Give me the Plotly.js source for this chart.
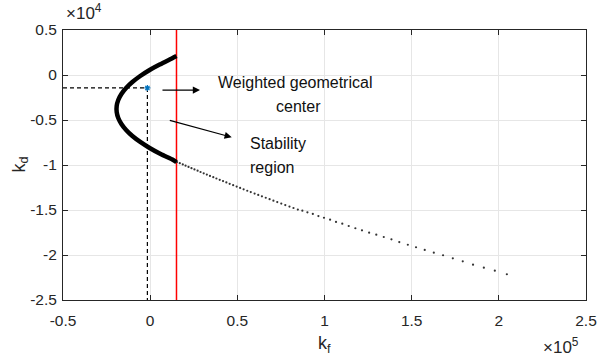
<!DOCTYPE html>
<html>
<head>
<meta charset="utf-8">
<script src="https://cdn.plot.ly/plotly-3.0.1.min.js"></script>
<style>html,body{margin:0;padding:0;background:#fff;}#chart{width:597px;height:360px;}</style>
</head>
<body>
<div id="chart"></div>
<script>
// Values in display units: kf in x10^5, kd in x10^4
const curveKf = [0.151, 0.107, 0.049, -0.003, -0.057, -0.102, -0.138, -0.165, -0.183, -0.192, -0.192, -0.183, -0.165, -0.138, -0.102, -0.057, -0.003, 0.060, 0.132, 0.151];
const curveKd = [0.211, 0.167, 0.111, 0.056, -0.011, -0.078, -0.144, -0.211, -0.278, -0.344, -0.411, -0.478, -0.544, -0.611, -0.678, -0.744, -0.811, -0.878, -0.944, -0.967];

const dotKf = [0.154, 0.170, 0.187, 0.203, 0.220, 0.237, 0.254, 0.272, 0.289, 0.307, 0.325, 0.343, 0.362, 0.380, 0.399, 0.418, 0.437, 0.456, 0.476, 0.496, 0.516, 0.536, 0.557, 0.577, 0.599, 0.620, 0.641, 0.663, 0.685, 0.707, 0.729, 0.752, 0.775, 0.799, 0.822, 0.847,
  0.873, 0.902, 0.933, 0.965, 0.997, 1.032, 1.066, 1.102, 1.139, 1.177, 1.215, 1.256, 1.297, 1.340, 1.384, 1.429, 1.478, 1.525, 1.575, 1.627, 1.680, 1.736, 1.793, 1.852, 1.914, 1.977, 2.046];
const dotKd = [-0.967, -0.980, -0.994, -1.008, -1.021, -1.035, -1.049, -1.063, -1.078, -1.092, -1.106, -1.121, -1.135, -1.150, -1.165, -1.179, -1.194, -1.209, -1.224, -1.240, -1.255, -1.270, -1.286, -1.301, -1.317, -1.333, -1.348, -1.364, -1.380, -1.396, -1.412, -1.429, -1.445, -1.462, -1.478, -1.495,
  -1.508, -1.526, -1.544, -1.567, -1.586, -1.608, -1.633, -1.652, -1.678, -1.703, -1.726, -1.752, -1.774, -1.800, -1.826, -1.856, -1.886, -1.914, -1.944, -1.974, -2.003, -2.037, -2.070, -2.108, -2.141, -2.174, -2.214];

const centerKf = [-0.016];
const centerKd = [-0.144];
const hDashKf = [-0.5, -0.016];
const hDashKd = [-0.144, -0.144];
const vDashKf = [-0.016, -0.016];
const vDashKd = [-0.144, -2.5];
const redKf = [0.151, 0.151];
const redKd = [-2.5, 0.5];

const xTickVals = [-0.5, 0, 0.5, 1, 1.5, 2, 2.5];
const xTickText = ["-0.5", "0", "0.5", "1", "1.5", "2", "2.5"];
const yTickVals = [-2.5, -2, -1.5, -1, -0.5, 0, 0.5];
const yTickText = ["-2.5", "-2", "-1.5", "-1", "-0.5", "0", "0.5"];

// annotation anchors (data units)
const arrow1 = {tailKf: 0.062, tailKd: -0.167, headKf: 0.286, headKd: -0.167};
const arrow2 = {tailKf: 0.104, tailKd: -0.500, headKf: 0.468, headKd: -0.692};

const FONT = 'Arial, "Liberation Sans", sans-serif';
const FS = 15.5;
const AX = '#262626';

const traces = [
  {x: hDashKf, y: hDashKd, mode: 'lines', line: {color: '#000', width: 1.2, dash: '4px,3px'}, hoverinfo: 'skip'},
  {x: vDashKf, y: vDashKd, mode: 'lines', line: {color: '#000', width: 1.2, dash: '4px,3px'}, hoverinfo: 'skip'},
  {x: redKf, y: redKd, mode: 'lines', line: {color: '#ff0000', width: 1.5}, hoverinfo: 'skip'},
  {x: dotKf, y: dotKd, mode: 'markers', marker: {color: '#333', size: 2.2}, hoverinfo: 'skip'},
  {x: curveKf, y: curveKd, mode: 'lines', line: {color: '#000', width: 4.5, shape: 'spline', smoothing: 0.8}, hoverinfo: 'skip'},
  {x: centerKf, y: centerKd, mode: 'markers', marker: {color: '#0072BD', size: 5, symbol: 'asterisk-open', line: {color: '#0072BD', width: 1.2}}, hoverinfo: 'skip'}
];

const axisCommon = {
  showline: true, linecolor: AX, linewidth: 1, mirror: 'ticks',
  ticks: 'inside', ticklen: 5, tickcolor: AX, tickwidth: 1,
  showgrid: true, gridcolor: '#e6e6e6', gridwidth: 1,
  zeroline: false, tickfont: {family: FONT, size: FS, color: AX},
  tickmode: 'array', fixedrange: true
};

const layout = {
  width: 597, height: 360,
  margin: {l: 63, r: 11, t: 30, b: 60},
  paper_bgcolor: '#fff', plot_bgcolor: '#fff',
  showlegend: false,
  font: {family: FONT, size: FS, color: AX},
  xaxis: Object.assign({}, axisCommon, {range: [-0.5, 2.5], tickvals: xTickVals, ticktext: xTickText, ticklabelstandoff: 6}),
  yaxis: Object.assign({}, axisCommon, {range: [-2.5, 0.5], tickvals: yTickVals, ticktext: yTickText, ticklabelstandoff: 2}),
  annotations: [
    {x: arrow1.headKf, y: arrow1.headKd, ax: arrow1.tailKf, ay: arrow1.tailKd, xref: 'x', yref: 'y', axref: 'x', ayref: 'y',
     showarrow: true, arrowhead: 2, arrowsize: 1.2, arrowwidth: 1.2, arrowcolor: '#000', text: ''},
    {x: arrow2.headKf, y: arrow2.headKd, ax: arrow2.tailKf, ay: arrow2.tailKd, xref: 'x', yref: 'y', axref: 'x', ayref: 'y',
     showarrow: true, arrowhead: 2, arrowsize: 1.2, arrowwidth: 1.2, arrowcolor: '#000', text: ''},
    {x: 0.831, y: -0.080, xref: 'x', yref: 'y', text: 'Weighted geometrical', showarrow: false, xanchor: 'center', yanchor: 'middle', font: {family: FONT, size: 16, color: '#111'}},
    {x: 0.848, y: -0.350, xref: 'x', yref: 'y', text: 'center', showarrow: false, xanchor: 'center', yanchor: 'middle', font: {family: FONT, size: 16, color: '#111'}},
    {x: 0.561, y: -0.760, xref: 'x', yref: 'y', text: 'Stability', showarrow: false, xanchor: 'left', yanchor: 'middle', font: {family: FONT, size: 16, color: '#111'}},
    {x: 0.561, y: -1.030, xref: 'x', yref: 'y', text: 'region', showarrow: false, xanchor: 'left', yanchor: 'middle', font: {family: FONT, size: 16, color: '#111'}},
    {x: 0.002, y: 1.065, xref: 'paper', yref: 'paper', text: '×10<sup>4</sup>', showarrow: false, xanchor: 'left', yanchor: 'middle', font: {family: FONT, size: 17, color: AX}},
    {x: 0.9905, y: -0.172, xref: 'paper', yref: 'paper', text: '×10<sup>5</sup>', showarrow: false, xanchor: 'right', yanchor: 'middle', font: {family: FONT, size: 17, color: AX}},
    {x: 0.5, y: -0.165, xref: 'paper', yref: 'paper', text: 'k<sub>f</sub>', showarrow: false, xanchor: 'center', yanchor: 'middle', font: {family: FONT, size: 18, color: AX}},
    {x: -0.083, y: 0.5, xref: 'paper', yref: 'paper', text: 'k<sub>d</sub>', textangle: -90, showarrow: false, xanchor: 'center', yanchor: 'middle', font: {family: FONT, size: 18, color: AX}}
  ]
};

Plotly.newPlot('chart', traces, layout, {displayModeBar: false, staticPlot: true});
</script>
</body>
</html>
